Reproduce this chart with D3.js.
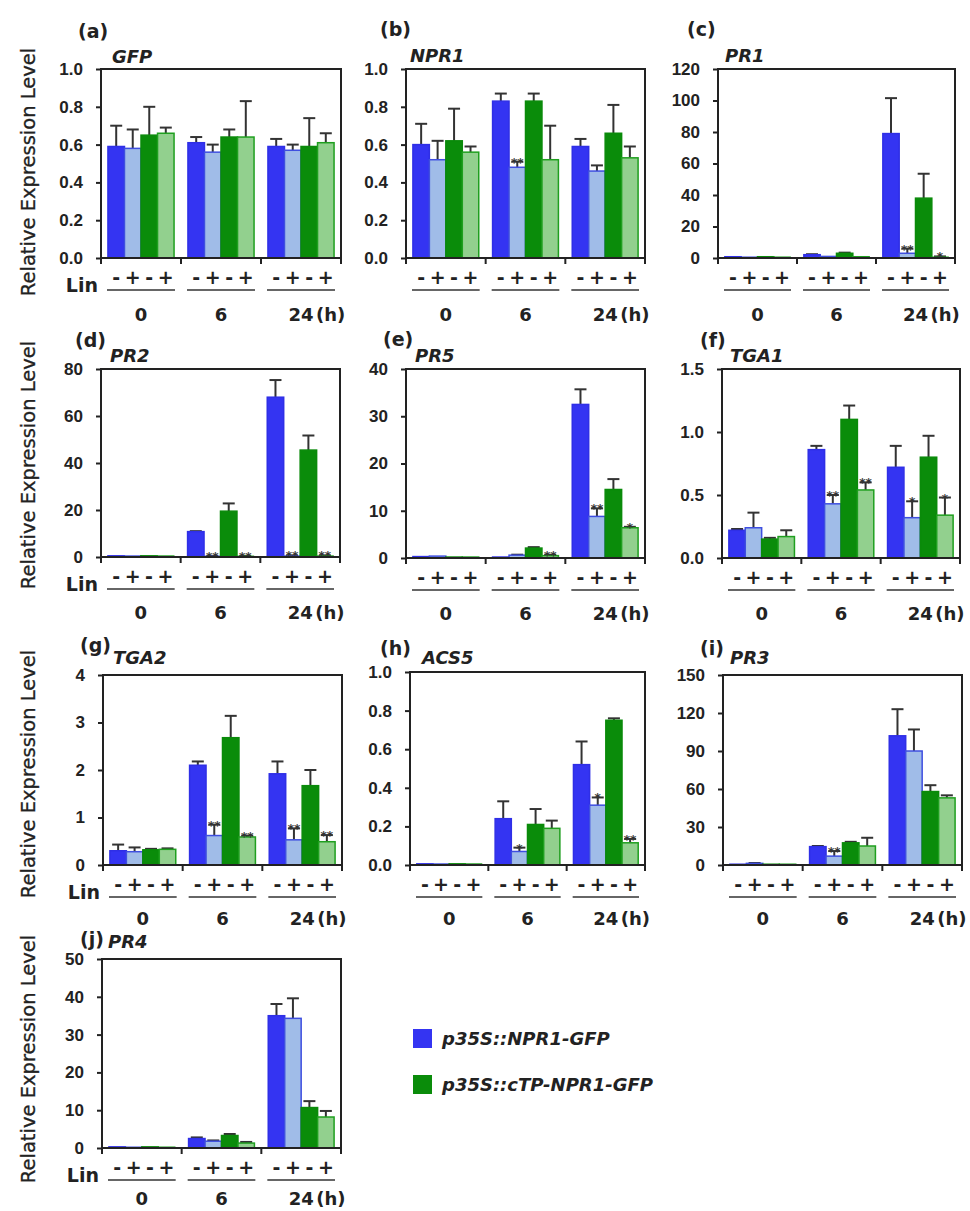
<!DOCTYPE html>
<html>
<head>
<meta charset="utf-8">
<script src="https://d3js.org/d3.v7.min.js"></script>
<style>
  body { margin: 0; background: #fff; }
  svg { display: block; font-family: "DejaVu Sans", sans-serif; }
  .tick text { font-weight: bold; font-size: 17px; fill: #222; }
  .tick line { stroke: #222; stroke-width: 2px; }
</style>
</head>
<body>
<svg width="970" height="1211"></svg>
<script>
// --- data ---
var times = ["0", "6", "24"];
var linSigns = ["-", "+", "-", "+"];
var conditions = ["npr1-", "npr1+", "ctp-", "ctp+"];
var seriesNames = ["p35S::NPR1-GFP", "p35S::cTP-NPR1-GFP"];
var genes = ["GFP", "NPR1", "PR1", "PR2", "PR5", "TGA1", "TGA2", "ACS5", "PR3", "PR4"];
var letters = ["(a)", "(b)", "(c)", "(d)", "(e)", "(f)", "(g)", "(h)", "(i)", "(j)"];
var yMax = [1, 1, 120, 80, 40, 1.5, 4, 1, 150, 50];
var yStep = [0.2, 0.2, 20, 20, 10, 0.5, 1, 0.2, 30, 10];
var yDecimals = [1, 1, 0, 0, 0, 1, 0, 1, 0, 0];

// each row: 0 h (4 bars), 6 h (4 bars), 24 h (4 bars)
var gfpMean  = [0.59, 0.58, 0.65, 0.66,  0.61, 0.56, 0.64, 0.64,  0.59, 0.57, 0.59, 0.61];
var gfpErr   = [0.11, 0.10, 0.15, 0.03,  0.03, 0.04, 0.04, 0.19,  0.04, 0.03, 0.15, 0.05];
var gfpSig   = ["", "", "", "",  "", "", "", "",  "", "", "", ""];

var npr1Mean = [0.60, 0.52, 0.62, 0.56,  0.83, 0.48, 0.83, 0.52,  0.59, 0.46, 0.66, 0.53];
var npr1Err  = [0.11, 0.10, 0.17, 0.03,  0.04, 0.03, 0.04, 0.18,  0.04, 0.03, 0.15, 0.06];
var npr1Sig  = ["", "", "", "",  "", "**", "", "",  "", "", "", ""];

var pr1Mean  = [0.8, 0.5, 0.8, 0.5,  2.1, 1.0, 3.0, 0.8,  79, 3, 38, 0.5];
var pr1Err   = [0, 0, 0, 0,  0.3, 0, 0.4, 0,  22.5, 3, 15.5, 0.5];
var pr1Sig   = ["", "", "", "",  "", "", "", "",  "", "**", "", "*"];

var pr2Mean  = [0.5, 0.4, 0.5, 0.4,  10.8, 0.3, 19.5, 0.3,  68, 0.4, 45.5, 0.4];
var pr2Err   = [0, 0, 0, 0,  0.2, 0.2, 3.3, 0.2,  7.3, 0.3, 6.2, 0.3];
var pr2Sig   = ["", "", "", "",  "", "**", "", "**",  "", "**", "", "**"];

var pr5Mean  = [0.3, 0.4, 0.2, 0.2,  0.2, 0.6, 2.1, 0.5,  32.5, 8.8, 14.5, 6.4];
var pr5Err   = [0, 0, 0, 0,  0, 0.1, 0.2, 0.2,  3.2, 1.7, 2.2, 0.2];
var pr5Sig   = ["", "", "", "",  "", "", "", "**",  "", "**", "", "*"];

var tga1Mean = [0.22, 0.24, 0.15, 0.17,  0.86, 0.43, 1.10, 0.54,  0.72, 0.32, 0.80, 0.34];
var tga1Err  = [0.01, 0.12, 0.01, 0.05,  0.03, 0.07, 0.11, 0.06,  0.17, 0.13, 0.17, 0.14];
var tga1Sig  = ["", "", "", "",  "", "**", "", "**",  "", "*", "", "*"];

var tga2Mean = [0.30, 0.28, 0.32, 0.33,  2.10, 0.62, 2.68, 0.59,  1.92, 0.53, 1.67, 0.49];
var tga2Err  = [0.13, 0.09, 0.02, 0.02,  0.08, 0.23, 0.46, 0.03,  0.26, 0.24, 0.33, 0.14];
var tga2Sig  = ["", "", "", "",  "", "**", "", "**",  "", "**", "", "**"];

var acs5Mean = [0.006, 0.005, 0.006, 0.005,  0.24, 0.07, 0.21, 0.19,  0.52, 0.31, 0.75, 0.115];
var acs5Err  = [0, 0, 0, 0,  0.09, 0.02, 0.08, 0.04,  0.12, 0.04, 0.01, 0.02];
var acs5Sig  = ["", "", "", "",  "", "*", "", "",  "", "*", "", "**"];

var pr3Mean  = [0.6, 1.3, 0.6, 0.6,  14.5, 7, 17.5, 15,  102, 90, 58, 53];
var pr3Err   = [0, 0.3, 0, 0,  0.5, 4, 0.8, 6.5,  21, 17, 5, 2];
var pr3Sig   = ["", "", "", "",  "", "**", "", "",  "", "", "", ""];

var pr4Mean  = [0.3, 0.2, 0.3, 0.2,  2.5, 1.8, 3.3, 1.3,  35.0, 34.3, 10.7, 8.2];
var pr4Err   = [0, 0, 0, 0,  0.3, 0.2, 0.4, 0.3,  3.1, 5.3, 1.7, 1.6];
var pr4Sig   = ["", "", "", "",  "", "", "", "",  "", "", "", ""];

var means = [gfpMean, npr1Mean, pr1Mean, pr2Mean, pr5Mean, tga1Mean, tga2Mean, acs5Mean, pr3Mean, pr4Mean];
var errs  = [gfpErr, npr1Err, pr1Err, pr2Err, pr5Err, tga1Err, tga2Err, acs5Err, pr3Err, pr4Err];
var sigs  = [gfpSig, npr1Sig, pr1Sig, pr2Sig, pr5Sig, tga1Sig, tga2Sig, acs5Sig, pr3Sig, pr4Sig];

// --- layout (plot box in page pixels, label anchors) ---
var boxes = [
  [101, 69, 341, 258], [406, 69, 645, 258], [718, 69, 955, 258],
  [101, 369, 340, 557], [406, 369, 645, 558], [722, 369, 960, 558],
  [103, 675, 342, 865], [410, 672, 645, 865], [723, 675, 962, 865],
  [102, 959, 341, 1148]
];
var letterPos = [[78, 38], [380, 36], [687, 36], [75, 347], [383, 346], [700, 347], [80, 652], [380, 655], [700, 655], [80, 946]];
var genePos = [[112, 63], [410, 62], [725, 62], [110, 362], [415, 362], [730, 362], [113, 664], [422, 664], [730, 664], [108, 948]];
var ylabelY = [172, 465, 774, 1059];
var groupLabelDy = [63, 62, 60, 57];

var fills = {"npr1-": "#3434f2", "npr1+": "#a0bce8", "ctp-": "#0a8c0a", "ctp+": "#92d08e"};
var strokes = {"npr1-": "#2f2fe6", "npr1+": "#3f4fe0", "ctp-": "#0a8a0a", "ctp+": "#1f9f1f"};
var ink = "#222";

var svg = d3.select("svg");

boxes.forEach(function(b, i) {
  var w = b[2] - b[0], h = b[3] - b[1];
  var row = Math.floor(i / 3);
  var g = svg.append("g").attr("transform", "translate(" + b[0] + "," + b[1] + ")");

  var x0 = d3.scaleBand().domain(times).range([0, w]).padding(0);
  var x1 = d3.scaleBand().domain(conditions).range([0, x0.bandwidth()])
      .paddingInner(0).paddingOuter(0.42);
  var y = d3.scaleLinear().domain([0, yMax[i]]).range([h, 0]);

  var rows = [];
  times.forEach(function(t, ti) {
    conditions.forEach(function(c, ci) {
      var k = ti * 4 + ci;
      rows.push({t: t, c: c, v: means[i][k], e: errs[i][k], s: sigs[i][k]});
    });
  });

  // error bars (drawn first so bar outline sits on top)
  var eb = g.selectAll(".err").data(rows.filter(function(d) { return d.e > 0; }))
    .enter().append("g").attr("class", "err")
      .attr("transform", function(d) { return "translate(" + (x0(d.t) + x1(d.c) + x1.bandwidth() / 2) + ",0)"; });
  eb.append("line")
      .attr("y1", function(d) { return y(d.v); })
      .attr("y2", function(d) { return y(d.v + d.e); })
      .attr("stroke", "#333").attr("stroke-width", 2);
  eb.append("line")
      .attr("x1", -6).attr("x2", 6)
      .attr("y1", function(d) { return y(d.v + d.e); })
      .attr("y2", function(d) { return y(d.v + d.e); })
      .attr("stroke", "#333").attr("stroke-width", 2);

  g.selectAll(".bar").data(rows).enter().append("rect")
      .attr("class", "bar")
      .attr("x", function(d) { return x0(d.t) + x1(d.c); })
      .attr("width", x1.bandwidth())
      .attr("y", function(d) { return y(d.v); })
      .attr("height", function(d) { return Math.max(0, h - y(d.v)); })
      .attr("fill", function(d) { return fills[d.c]; })
      .attr("stroke", function(d) { return strokes[d.c]; })
      .attr("stroke-width", 1.5);

  g.selectAll(".sig").data(rows.filter(function(d) { return d.s; }))
    .enter().append("text")
      .attr("class", "sig")
      .attr("x", function(d) { return x0(d.t) + x1(d.c) + x1.bandwidth() / 2; })
      .attr("y", function(d) { return y(d.v + d.e) + 5; })
      .attr("text-anchor", "middle")
      .attr("font-size", 12).attr("font-weight", "bold").attr("fill", "#333")
      .text(function(d) { return d.s; });

  // y axis
  var ticks = d3.range(0, yMax[i] + yStep[i] / 2, yStep[i]);
  g.append("g")
      .call(d3.axisLeft(y).tickValues(ticks).tickSize(5).tickPadding(13)
        .tickFormat(d3.format("." + yDecimals[i] + "f")))
      .call(function(a) { a.select(".domain").remove(); });

  // frame
  g.append("rect").attr("width", w).attr("height", h)
      .attr("fill", "none").attr("stroke", ink).attr("stroke-width", 2);
  g.selectAll(".xt").data([0, 1, 2, 3]).enter().append("line")
      .attr("x1", function(d) { return d * w / 3; }).attr("x2", function(d) { return d * w / 3; })
      .attr("y1", h).attr("y2", h + 6)
      .attr("stroke", ink).attr("stroke-width", 2);

  // Lin -/+ row
  rows.forEach(function(d, k) {
    g.append("text")
        .attr("x", x0(d.t) + x1(d.c) + x1.bandwidth() / 2)
        .attr("y", h + 26)
        .attr("text-anchor", "middle")
        .attr("font-size", 19).attr("font-weight", "bold").attr("fill", ink)
        .text(linSigns[k % 4]);
  });
  times.forEach(function(t) {
    g.append("line")
        .attr("x1", x0(t) + 6).attr("x2", x0(t) + x0.bandwidth() - 6)
        .attr("y1", h + 32).attr("y2", h + 32)
        .attr("stroke", "#333").attr("stroke-width", 1.5);
    g.append("text")
        .attr("x", x0(t) + x0.bandwidth() / 2)
        .attr("y", h + groupLabelDy[row])
        .attr("text-anchor", "middle")
        .attr("font-size", 18).attr("font-weight", "bold").attr("fill", ink)
        .text(t);
  });
  g.append("text")
      .attr("x", x0("24") + x0.bandwidth() / 2 + 15)
      .attr("y", h + groupLabelDy[row])
      .attr("font-size", 18).attr("font-weight", "bold").attr("fill", ink)
      .text("(h)");

  if (i % 3 === 0) {
    g.append("text")
        .attr("x", -3).attr("y", h + 34)
        .attr("text-anchor", "end")
        .attr("font-size", 19).attr("font-weight", "bold").attr("fill", ink)
        .text("Lin");
  }

  svg.append("text").attr("x", letterPos[i][0]).attr("y", letterPos[i][1])
      .attr("font-size", 19).attr("font-weight", "bold").attr("fill", ink)
      .text(letters[i]);
  svg.append("text").attr("x", genePos[i][0]).attr("y", genePos[i][1])
      .attr("font-size", 18).attr("font-weight", "bold").attr("font-style", "italic").attr("fill", ink)
      .text(genes[i]);
});

// y axis titles, one per row
ylabelY.forEach(function(cy) {
  svg.append("text")
      .attr("transform", "translate(35," + cy + ") rotate(-90)")
      .attr("text-anchor", "middle")
      .attr("font-size", 19.5).attr("fill", ink)
      .attr("stroke", ink).attr("stroke-width", 0.3)
      .text("Relative Expression Level");
});

// legend
var legend = svg.append("g").attr("transform", "translate(413,1029)");
seriesNames.forEach(function(name, k) {
  var item = legend.append("g").attr("transform", "translate(0," + (k * 46) + ")");
  item.append("rect").attr("width", 19).attr("height", 19)
      .attr("fill", k === 0 ? fills["npr1-"] : fills["ctp-"]);
  item.append("text").attr("x", 29).attr("y", 16)
      .attr("font-size", 18).attr("font-weight", "bold").attr("font-style", "italic").attr("fill", ink)
      .text(name);
});
</script>
</body>
</html>
